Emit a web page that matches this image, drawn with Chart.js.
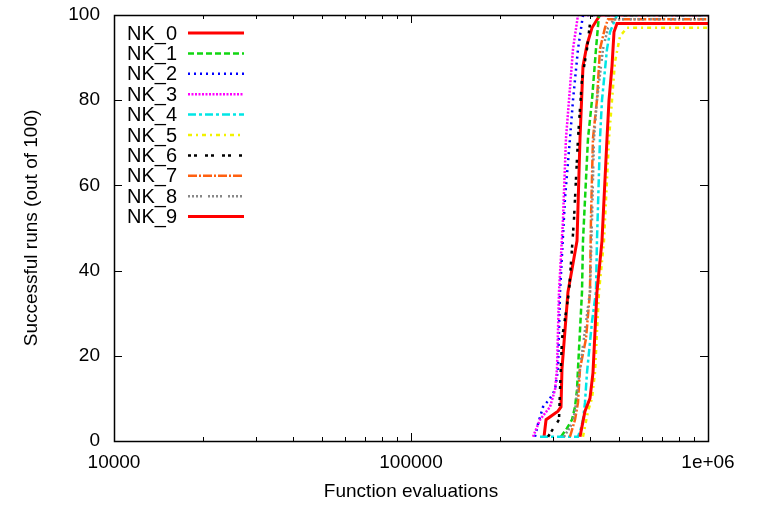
<!DOCTYPE html>
<html>
<head>
<meta charset="utf-8">
<script src="https://cdn.jsdelivr.net/npm/chart.js@4.4.0/dist/chart.umd.min.js"></script>
<style>
  html, body { margin: 0; padding: 0; background: #fff; }
  #wrap { width: 760px; height: 507px; }
</style>
</head>
<body>
<div id="wrap"><canvas id="runsChart" width="760" height="507"></canvas></div>
<script>
// series names
const seriesNames = ["NK_0", "NK_1", "NK_2", "NK_3", "NK_4", "NK_5", "NK_6", "NK_7", "NK_8", "NK_9"];

// function evaluations / successful runs
const nk0Evals = [280500, 284900, 312600, 319900, 322400, 337700, 362200, 370700, 379400, 391300, 406800, 432800, 1000000];
const nk0Runs  = [1, 5, 7, 8, 17, 35, 47, 71, 88, 93, 97, 100, 100];
const nk1Evals = [319900, 335100, 348400, 356600, 362200, 365000, 376500, 379400, 394400, 406800, 419600, 429500, 1000000];
const nk1Runs  = [1, 3, 5, 8, 12, 17, 35, 47, 71, 80, 92, 100, 100];
const nk2Evals = [261500, 267700, 278300, 293800, 305400, 312600, 317500, 330000, 343000, 351100, 365000, 379400, 1000000];
const nk2Runs  = [1, 4, 8, 10, 12, 17, 35, 57, 71, 80, 92, 100, 100];
const nk3Evals = [257500, 271900, 293800, 305400, 310200, 315000, 324900, 332500, 340400, 351100, 365000, 1000000];
const nk3Runs  = [1, 5, 8, 12, 17, 35, 52, 71, 80, 92, 100, 100];
const nk4Evals = [271900, 365000, 373600, 379400, 385300, 391300, 406800, 419600, 422800, 432800, 439600, 457000, 467800, 493900, 1000000];
const nk4Runs  = [1, 1, 3, 5, 9, 16, 28, 35, 47, 71, 80, 92, 96, 100, 100];
const nk5Evals = [379400, 394400, 406800, 416300, 429500, 446500, 464200, 475100, 486200, 505500, 533700, 1000000];
const nk5Runs  = [1, 7, 10, 16, 35, 47, 71, 80, 89, 95, 97, 97];
const nk6Evals = [289300, 315000, 317500, 322400, 340400, 353800, 365000, 376500, 391300, 400500, 406800, 1000000];
const nk6Runs  = [1, 5, 12, 24, 35, 52, 71, 85, 92, 98, 100, 100];
const nk7Evals = [343000, 356600, 365000, 370700, 388300, 400500, 403600, 409900, 422800, 432800, 449900, 460500, 1000000];
const nk7Runs  = [1, 5, 9, 17, 24, 35, 52, 71, 80, 92, 97, 99, 99];
const nk8Evals = [327400, 348400, 356600, 365000, 370700, 400500, 406800, 413100, 422800, 443000, 460500, 482500, 1000000];
const nk8Runs  = [1, 4, 7, 13, 17, 35, 52, 71, 80, 92, 97, 99, 99];
const nk9Evals = [370700, 385300, 400500, 409900, 422800, 439600, 457000, 464200, 475100, 482500, 493900, 1000000];
const nk9Runs  = [1, 7, 10, 16, 35, 47, 71, 80, 88, 96, 98, 98];

// axis ticks
const xTickValues = [10000, 100000, 1000000];
const xTickLabels = ["10000", "100000", "1e+06"];
const yTickValues = [0, 20, 40, 60, 80, 100];

const allEvals = [nk0Evals, nk1Evals, nk2Evals, nk3Evals, nk4Evals, nk5Evals, nk6Evals, nk7Evals, nk8Evals, nk9Evals];
const allRuns = [nk0Runs, nk1Runs, nk2Runs, nk3Runs, nk4Runs, nk5Runs, nk6Runs, nk7Runs, nk8Runs, nk9Runs];

// gnuplot-ish line styles
const lineColors = ["#ff0000", "#11d611", "#0000ff", "#ff00ff", "#00e6e6", "#f2f200", "#000000", "#ff6010", "#888888", "#ff0000"];
const lineDashes = [[], [6, 3], [2, 4], [2, 1.5], [8, 3, 3, 3], [4, 4, 2, 4], [3, 3, 3, 8], [9, 2, 2, 2], [2, 2, 2, 2, 2, 2, 2, 6], []];
const lineWidths = [3, 2.5, 2.5, 2.5, 2.5, 2.5, 2.5, 2.5, 2.5, 3];

const FONT = "'Liberation Sans', Arial, sans-serif";

const datasets = seriesNames.map((name, i) => ({
  label: name,
  data: allEvals[i].map((e, j) => ({ x: e, y: allRuns[i][j] })),
  borderColor: lineColors[i],
  backgroundColor: lineColors[i],
  borderDash: lineDashes[i],
  borderWidth: lineWidths[i],
  pointRadius: 0,
  tension: 0,
  fill: false,
  order: seriesNames.length - i  // later series drawn on top, like gnuplot
}));

// frame + inward tick marks on all four sides
const frameTicks = {
  id: "frameTicks",
  afterDatasetsDraw(chart) {
    const { ctx, chartArea: a, scales: { x, y } } = chart;
    ctx.save();
    ctx.strokeStyle = "#000";
    ctx.lineWidth = 1;
    ctx.beginPath();
    yTickValues.forEach(v => {
      const py = Math.round(y.getPixelForValue(v)) + 0.5;
      ctx.moveTo(a.left, py); ctx.lineTo(a.left + 8, py);
      ctx.moveTo(a.right, py); ctx.lineTo(a.right - 8, py);
    });
    for (let d = 10000; d < 1000000; d *= 10) {
      for (let k = 1; k <= 10; k++) {
        const px = Math.round(x.getPixelForValue(d * k)) + 0.5;
        const len = (k === 1 || k === 10) ? 8 : 4;
        ctx.moveTo(px, a.bottom); ctx.lineTo(px, a.bottom - len);
        ctx.moveTo(px, a.top); ctx.lineTo(px, a.top + len);
      }
    }
    ctx.stroke();
    ctx.lineWidth = 1.5;
    ctx.strokeRect(Math.round(a.left) + 0.5, Math.round(a.top) + 0.5, Math.round(a.width), Math.round(a.height));
    ctx.restore();
  }
};

// key in the top-left corner: label then line sample
const keyBox = {
  id: "keyBox",
  afterDraw(chart) {
    const { ctx } = chart;
    ctx.save();
    ctx.font = "20px " + FONT;
    ctx.fillStyle = "#000";
    ctx.textAlign = "right";
    ctx.textBaseline = "middle";
    chart.data.datasets.forEach((ds, i) => {
      const yy = 33 + i * 20.4;
      ctx.fillText(ds.label, 177, yy + 1);
      ctx.strokeStyle = ds.borderColor;
      ctx.lineWidth = ds.borderWidth;
      ctx.setLineDash(ds.borderDash);
      ctx.beginPath();
      ctx.moveTo(188, yy);
      ctx.lineTo(244, yy);
      ctx.stroke();
    });
    ctx.restore();
  }
};

new Chart(document.getElementById("runsChart"), {
  type: "line",
  data: { datasets: datasets },
  plugins: [frameTicks, keyBox],
  options: {
    responsive: false,
    animation: false,
    layout: { padding: { top: 15, right: 52, bottom: 0, left: 0 } },
    plugins: {
      legend: { display: false },
      tooltip: { enabled: false }
    },
    scales: {
      x: {
        type: "logarithmic",
        min: 10000,
        max: 1000000,
        afterFit: s => { s.height = 66; s.paddingRight = 0; s.paddingLeft = 0; },
        afterBuildTicks: s => { s.ticks = xTickValues.map(v => ({ value: v })); },
        grid: { display: false, drawTicks: false },
        border: { display: false },
        ticks: {
          autoSkip: false,
          maxRotation: 0,
          padding: 10,
          color: "#000",
          font: { family: FONT, size: 19 },
          callback: v => {
            const k = xTickValues.indexOf(v);
            return k >= 0 ? xTickLabels[k] : "";
          }
        },
        title: {
          display: true,
          text: "Function evaluations",
          color: "#000",
          font: { family: FONT, size: 19 },
          padding: { top: 0, bottom: 4 }
        }
      },
      y: {
        min: 0,
        max: 100,
        afterFit: s => { s.width = 114; s.paddingTop = 0; s.paddingBottom = 0; },
        afterBuildTicks: s => { s.ticks = yTickValues.map(v => ({ value: v })); },
        grid: { display: false, drawTicks: false },
        border: { display: false },
        ticks: {
          padding: 14,
          color: "#000",
          font: { family: FONT, size: 19 }
        },
        title: {
          display: true,
          text: "Successful runs (out of 100)",
          color: "#000",
          font: { family: FONT, size: 19 },
          padding: { top: 20, bottom: 0 }
        }
      }
    }
  }
});
</script>
</body>
</html>
